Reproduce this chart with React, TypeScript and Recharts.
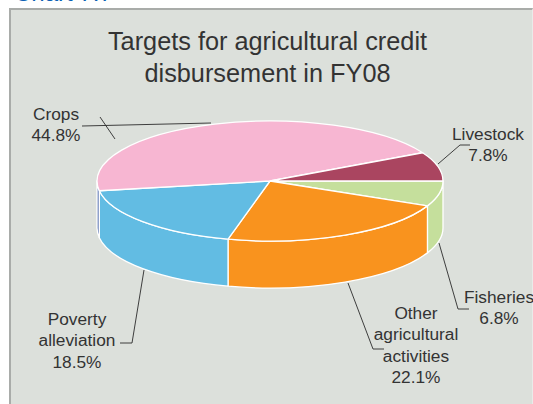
import React from "react"
import { PieChart, Pie, Cell } from "recharts"

const categories = ["Fisheries", "Other agricultural activities", "Poverty alleviation", "Crops", "Livestock"]
const shares = [6.8, 22.1, 18.5, 44.8, 7.8]
const topColors = ["#c5df9c", "#f9931e", "#62bce3", "#f7b6d2", "#aa4560"]
const wallColors = ["#c5df9c", "#f9931e", "#62bce3", "#5670b0", "#aa4560"]
const labelLines = [
  ["Fisheries", "6.8%"],
  ["Other", "agricultural", "activities", "22.1%"],
  ["Poverty", "alleviation", "18.5%"],
  ["Crops", "44.8%"],
  ["Livestock", "7.8%"],
]
const titleLines = ["Targets for agricultural credit", "disbursement in FY08"]

const data = categories.map((name, i) => ({ name, value: shares[i] }))

const TILT = 60 / 173
const DEPTH = 47
const INK = "#333333"

// where each callout sits: text centre, first baseline, leader polylines
const callouts = [
  { x: 499, y: 303, leaders: ["439,243 458,309 469,309"] },
  { x: 416, y: 319, leaders: ["348,283 373,349 384,349"] },
  { x: 77, y: 325, leaders: ["144,270 132,343 120,343"] },
  { x: 56, y: 120, leaders: ["82,126 211,123", "100,117 115,139"] },
  { x: 488, y: 140, leaders: ["438,164 460,145 470,145"] },
]

// flattened sector with its outer wall; angles run clockwise from 3 o'clock
function Slice3D(props: any) {
  const { cx, cy, outerRadius: r, startAngle, endAngle, index } = props
  const ry = r * TILT
  const pt = (deg: number, drop = 0) => {
    const a = (deg * Math.PI) / 180
    return `${cx + r * Math.cos(a)} ${cy + ry * Math.sin(a) + drop}`
  }
  const from = -startAngle
  const to = -endAngle
  const large = to - from > 180 ? 1 : 0
  const wallFrom = Math.max(from, 0)
  const wallTo = Math.min(to, 180)
  return (
    <g>
      {wallTo > wallFrom && (
        <path
          d={`M${pt(wallFrom)} A${r} ${ry} 0 0 1 ${pt(wallTo)} L${pt(wallTo, DEPTH)} A${r} ${ry} 0 0 0 ${pt(wallFrom, DEPTH)} Z`}
          fill={wallColors[index]}
          stroke="#fff"
          strokeWidth={1.3}
          strokeLinejoin="round"
        />
      )}
      <path
        d={`M${cx} ${cy} L${pt(from)} A${r} ${ry} 0 ${large} 1 ${pt(to)} Z`}
        fill={topColors[index]}
        stroke="#fff"
        strokeWidth={1.3}
        strokeLinejoin="round"
      />
    </g>
  )
}

function Callout({ index }: any) {
  const c = callouts[index]
  return (
    <g>
      {c.leaders.map((pts) => (
        <polyline key={pts} points={pts} fill="none" stroke="#2b2b2b" strokeWidth={0.9} />
      ))}
      <text x={c.x} y={c.y} textAnchor="middle" fontSize={17.3} fill={INK} fontFamily="Liberation Sans">
        {labelLines[index].map((line, i) => (
          <tspan key={line} x={c.x} dy={i === 0 ? 0 : 21.3}>
            {line}
          </tspan>
        ))}
      </text>
    </g>
  )
}

export default function App() {
  return (
    <div style={{ position: "absolute", left: 0, top: 0, width: 533, height: 404, overflow: "hidden", background: "#fff" }}>
      <div
        style={{
          position: "absolute",
          left: 14,
          top: -21,
          fontFamily: "Liberation Sans",
          fontSize: 24,
          lineHeight: "28px",
          color: "#0a5fb4",
        }}
      >
        Chart 7.7
      </div>
      <div
        style={{
          position: "absolute",
          left: 9,
          top: 8,
          width: 521,
          height: 396,
          background: "#dce0db",
          borderLeft: "2px solid #a9aca9",
          borderTop: "2px solid #a9aca9",
          borderRight: "1px solid #e9ebe9",
        }}
      />
      <div style={{ position: "absolute", left: 0, top: 0 }}>
        <PieChart width={533} height={404} margin={{ top: 0, right: 0, bottom: 0, left: 0 }}>
          <text textAnchor="middle" fontSize={25.3} fill={INK} fontFamily="Liberation Sans">
            {titleLines.map((line, i) => (
              <tspan key={line} x={267.5} y={50 + i * 32}>
                {line}
              </tspan>
            ))}
          </text>
          <Pie
            data={data}
            dataKey="value"
            nameKey="name"
            cx={270}
            cy={181}
            innerRadius={0}
            outerRadius={173}
            startAngle={0}
            endAngle={-360}
            paddingAngle={0}
            stroke="none"
            shape={Slice3D}
            label={Callout}
            labelLine={false}
            isAnimationActive={false}
          >
            {data.map((d, i) => (
              <Cell key={d.name} fill={topColors[i]} />
            ))}
          </Pie>
        </PieChart>
      </div>
    </div>
  )
}
